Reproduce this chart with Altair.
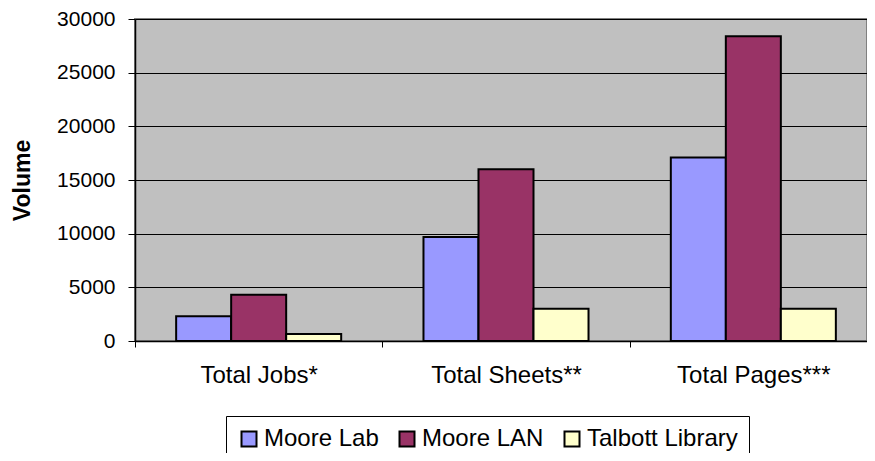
import altair as alt
import pandas as pd

categories = ["Total Jobs*", "Total Sheets**", "Total Pages***"]
series = ["Moore Lab", "Moore LAN", "Talbott Library"]
moore_lab = [2300, 9700, 17100]
moore_lan = [4300, 16000, 28400]
talbott = [650, 3000, 3000]
colors = ["#9999FF", "#993366", "#FFFFCC"]
y_ticks = [0, 5000, 10000, 15000, 20000, 25000, 30000]

rows = []
for s, vals in zip(series, [moore_lab, moore_lan, talbott]):
    for c, v in zip(categories, vals):
        rows.append({"cat": c, "series": s, "value": v})
df = pd.DataFrame(rows)

FONT = "Liberation Sans"

chart = alt.Chart(df).mark_bar(stroke="black", strokeWidth=2).encode(
    x=alt.X("cat:N", sort=categories,
            scale=alt.Scale(paddingInner=0, paddingOuter=0, range=[0, 742]),
            axis=alt.Axis(title=None, labelAngle=0, tickBand="extent",
                          labelFont=FONT, labelFontSize=24, labelColor="black",
                          labelPadding=16, tickColor="black", tickSize=6,
                          domainColor="black", domainWidth=1.5, grid=False)),
    xOffset=alt.XOffset("series:N", sort=series,
                        scale=alt.Scale(paddingInner=0, paddingOuter=0.748)),
    y=alt.Y("value:Q", scale=alt.Scale(domain=[0, 30000], nice=False),
            axis=alt.Axis(title="Volume", values=y_ticks, format="d",
                          labelFont=FONT, labelFontSize=21, labelColor="black",
                          labelPadding=13, tickColor="black", tickSize=7,
                          domainColor="black", domainWidth=1.5,
                          gridColor="black", gridWidth=1, gridOpacity=1,
                          titleFont=FONT, titleFontSize=23, titleFontWeight="bold",
                          titleColor="black", titlePadding=22)),
    color=alt.Color("series:N", sort=series,
                    scale=alt.Scale(domain=series, range=colors),
                    legend=alt.Legend(title=None, orient="none", direction="horizontal",
                                      legendX=91, legendY=397,
                                      symbolType="square", symbolSize=225,
                                      symbolStrokeColor="black", symbolStrokeWidth=2,
                                      symbolOpacity=1,
                                      labelFont=FONT, labelFontSize=24, labelColor="black",
                                      labelOffset=3, columnPadding=16,
                                      padding=11, strokeColor="black",
                                      fillColor="white")),
).properties(
    width=732, height=322,
    autosize=alt.AutoSizeParams(type="none"),
    padding={"left": 127, "top": 11, "right": 0, "bottom": 112},
).configure_view(
    fill="#C0C0C0", stroke="#808080", strokeWidth=2
)

chart.save("out.html", embed_options={"renderer": "svg", "actions": False})
